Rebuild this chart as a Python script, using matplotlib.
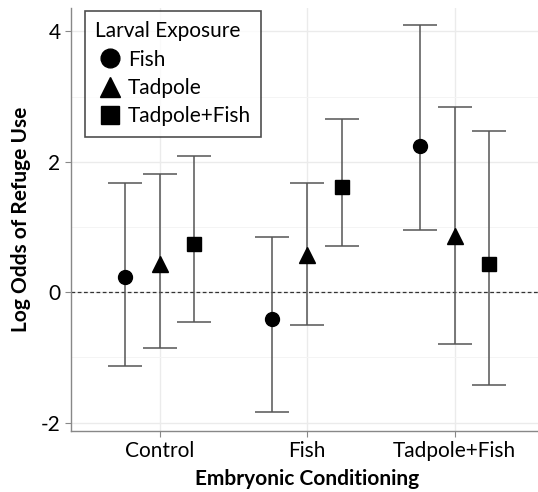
import matplotlib
matplotlib.use("Agg")
import matplotlib.pyplot as plt
import numpy as np

categories = ["Control", "Fish", "Tadpole+Fish"]
groups = ["Fish", "Tadpole", "Tadpole+Fish"]
est = {
    "Fish":         [0.24, -0.41, 2.25],
    "Tadpole":      [0.43, 0.57, 0.87],
    "Tadpole+Fish": [0.74, 1.61, 0.43],
}
upper = {
    "Fish":         [1.67, 0.85, 4.10],
    "Tadpole":      [1.82, 1.68, 2.84],
    "Tadpole+Fish": [2.09, 2.66, 2.47],
}
lower = {
    "Fish":         [-1.13, -1.83, 0.955],
    "Tadpole":      [-0.86, -0.50, -0.80],
    "Tadpole+Fish": [-0.46, 0.71, -1.42],
}
markers = {"Fish": "o", "Tadpole": "^", "Tadpole+Fish": "s"}
msizes = {"Fish": 10, "Tadpole": 11, "Tadpole+Fish": 9.5}
offsets = [-0.234, 0.0, 0.234]

plt.rcParams['font.family'] = ['Lato', 'DejaVu Sans']

fig = plt.figure(figsize=(5.38, 4.92), dpi=100)
ax = fig.add_axes([71/538, (492-430.7)/492, 472/538, (430.7-8)/492])

x = np.arange(1, len(categories) + 1)
for g, off in zip(groups, offsets):
    xs = x + off
    e = np.array(est[g]); u = np.array(upper[g]); l = np.array(lower[g])
    ax.errorbar(xs, e, yerr=[e - l, u - e], fmt='none', ecolor='#555555',
                elinewidth=1.1, capsize=12, capthick=1.1, zorder=2)
    ax.plot(xs, e, linestyle='none', marker=markers[g], markersize=msizes[g],
            color='black', label=g, zorder=3)

ax.axhline(0, color='#333333', linestyle=(0, (3, 2)), linewidth=0.9, zorder=1)

ax.set_xlim(0.4, 3.6)
ax.set_ylim(-2.123, 4.36)
ax.set_xticks(x)
ax.set_xticklabels(categories)
ax.set_yticks([-2, 0, 2, 4])
ax.set_yticklabels(["-2", "0", "2", "4"])
ax.set_yticks([-1, 1, 3], minor=True)
ax.tick_params(axis='y', which='minor', length=0)
ax.grid(True, which='major', color='#ebebeb', linewidth=1.0, zorder=0)
ax.grid(True, which='minor', axis='y', color='#f4f4f4', linewidth=0.7, zorder=0)
ax.set_axisbelow(True)

for s in ['top', 'right']:
    ax.spines[s].set_visible(False)
for s in ['left', 'bottom']:
    ax.spines[s].set_color('#888888')
    ax.spines[s].set_linewidth(1.0)
ax.tick_params(axis='both', colors='#888888', labelcolor='black', labelsize=15, length=4)

ax.set_xlabel("Embryonic Conditioning", fontsize=15, fontweight='bold', labelpad=6)
ax.set_ylabel("Log Odds of Refuge Use", fontsize=15, fontweight='bold', labelpad=7)

leg = ax.legend(title="Larval Exposure", loc='upper left',
                bbox_to_anchor=(14/472, 1 - 3/422.7),
                borderaxespad=0, frameon=True, fancybox=False, edgecolor='#222222',
                fontsize=15, title_fontsize=15, handletextpad=0.15, handlelength=1.4,
                labelspacing=0.4, borderpad=0.5, markerscale=1.35)
leg.get_frame().set_linewidth(1.2)
leg._legend_box.align = "left"

fig.savefig("out.png", dpi=100)
